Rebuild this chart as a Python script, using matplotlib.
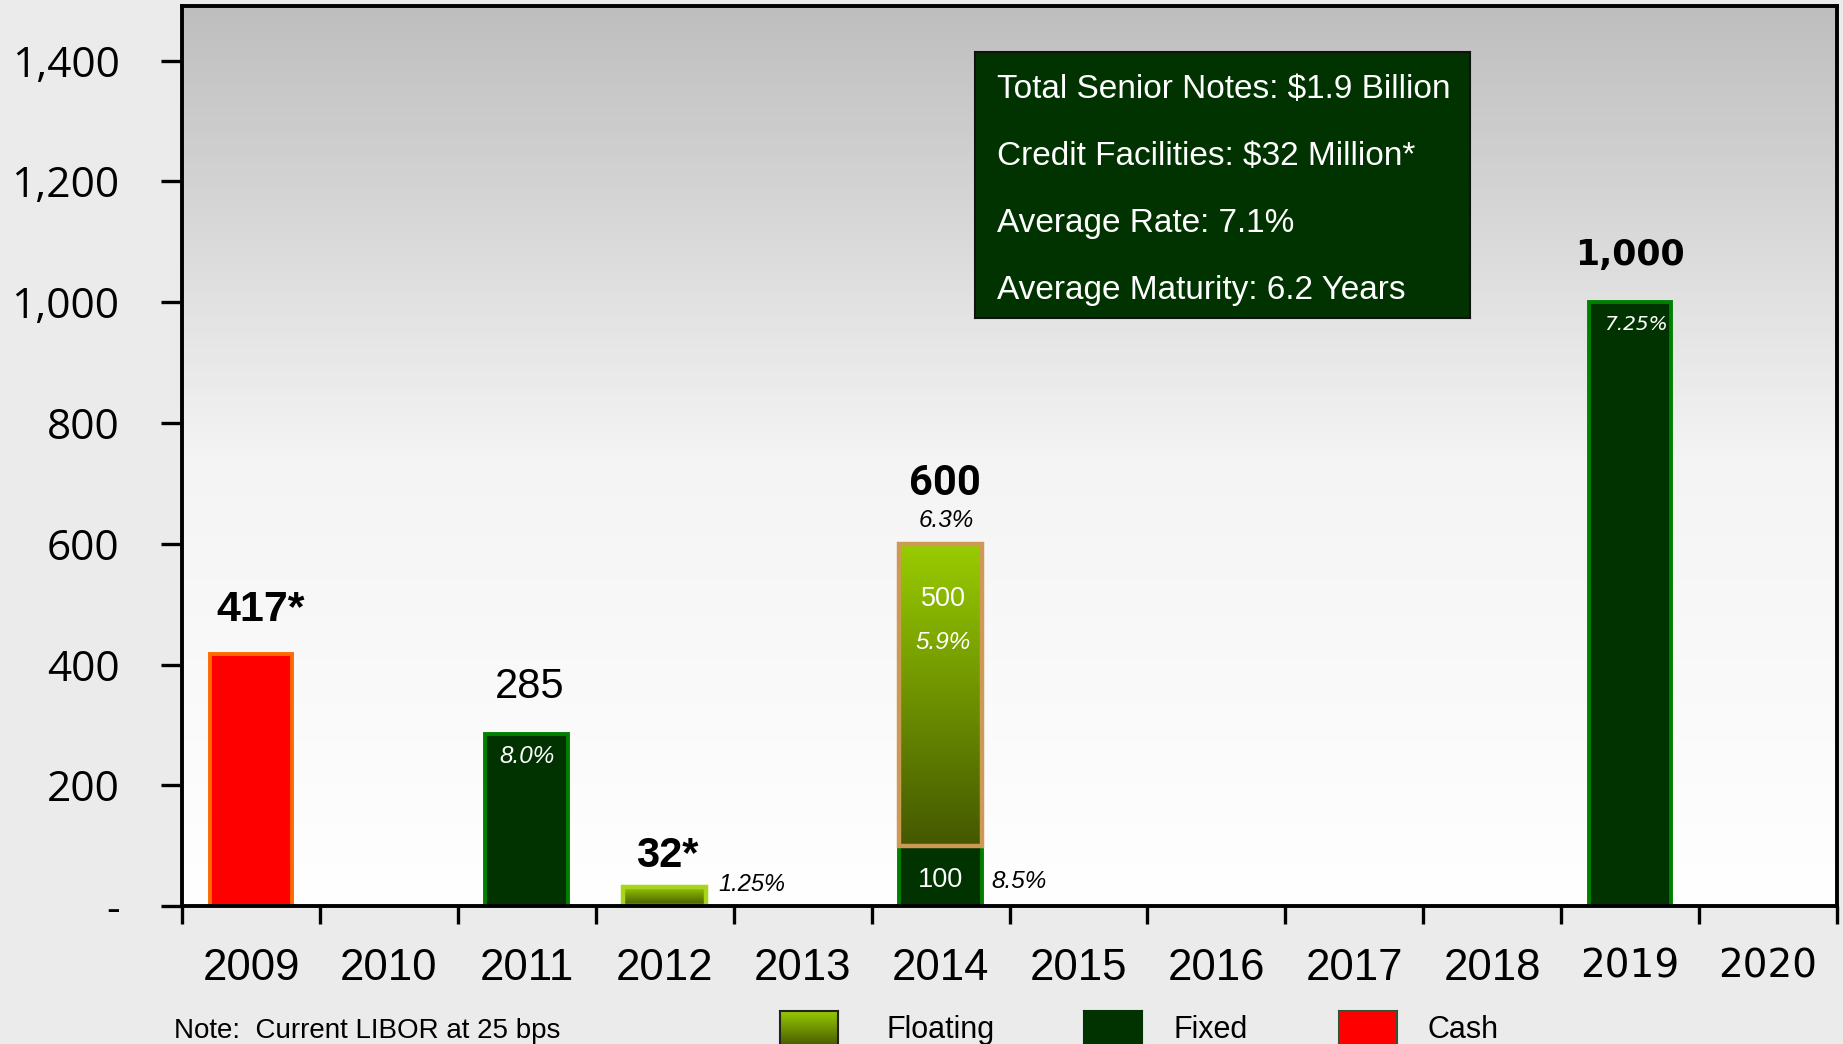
import numpy as np
import matplotlib
matplotlib.use('Agg')
import matplotlib.pyplot as plt
from matplotlib.colors import LinearSegmentedColormap

# data
years = ['2009', '2010', '2011', '2012', '2013', '2014', '2015', '2016', '2017', '2018', '2019', '2020']
cash = [417, 0, 0, 0, 0, 0, 0, 0, 0, 0, 0, 0]
fixed = [0, 0, 285, 0, 0, 100, 0, 0, 0, 0, 1000, 0]
floating = [0, 0, 0, 32, 0, 500, 0, 0, 0, 0, 0, 0]
fixed_rates = ['', '', '8.0%', '', '', '8.5%', '', '', '', '', '7.25%', '']
floating_rates = ['', '', '', '1.25%', '', '5.9%', '', '', '', '', '', '']
total_labels = ['417*', '', '285', '32*', '', '600', '', '', '', '', '1,000', '']
total_rates = ['', '', '', '', '', '6.3%', '', '', '', '', '', '']
yticks = [0, 200, 400, 600, 800, 1000, 1200, 1400]
ytick_labels = ['-', '200', '400', '600', '800', '1,000', '1,200', '1,400']
summary = ['Total Senior Notes: $1.9 Billion',
           'Credit Facilities: $32 Million*',
           'Average Rate: 7.1%',
           'Average Maturity: 6.2 Years']
note = 'Note:  Current LIBOR at 25 bps'
legend_names = ['Floating', 'Fixed', 'Cash']

# no narrow Arial here, Liberation Sans sized down to match widths
NARROW = ['Liberation Sans', 'DejaVu Sans']
FIXED_FC, FIXED_EC = '#003300', '#008000'
CASH_FC, CASH_EC = '#ff0000', '#ff6a00'
FLOAT_TOP, FLOAT_BOT = '#99cc00', '#445800'
float_cmap = LinearSegmentedColormap.from_list('flt', [FLOAT_BOT, FLOAT_TOP])
grad = np.linspace(0, 1, 256).reshape(-1, 1)

fig = plt.figure(figsize=(18.43, 10.44), dpi=100, facecolor='#ebebeb')
ax = fig.add_axes([0.0988, 0.132, 0.8979, 0.862])

# background gradient of the plot area (white at the bottom, grey on top)
ax.imshow(grad, cmap=LinearSegmentedColormap.from_list('bg', ['#ffffff', '#f4f4f4', '#bebebe']),
          extent=[0, 1, 0, 1], transform=ax.transAxes, aspect='auto', zorder=0, origin='lower')

x = np.arange(len(years))
w = 0.6
cash = np.array(cash)
fixed = np.array(fixed)
floating = np.array(floating)

m = cash > 0
ax.bar(x[m], cash[m], w, color=CASH_FC, edgecolor=CASH_EC, linewidth=2.8, zorder=3)
m = fixed > 0
ax.bar(x[m], fixed[m], w, color=FIXED_FC, edgecolor=FIXED_EC, linewidth=2.8, zorder=3)
m = floating > 0
fbars = ax.bar(x[m], floating[m], w, bottom=fixed[m], color='none', linewidth=3.2, zorder=4,
               edgecolor=['#a8d41a' if v < 100 else '#cc9a55' for v in floating[m]])
for b in fbars:
    x0, y0 = b.get_x(), b.get_y()
    im = ax.imshow(grad, cmap=float_cmap, origin='lower', aspect='auto', zorder=3.5,
                   extent=[x0, x0 + b.get_width(), y0, y0 + b.get_height()])
    im.set_clip_path(b)

ax.set_xlim(-0.5, len(years) - 0.5)
ax.set_ylim(0, 1490)

# axes styling
for s in ax.spines.values():
    s.set_linewidth(2.8)
    s.set_zorder(5)
ax.set_yticks(yticks)
ax.set_yticklabels(ytick_labels, fontsize=30.5, family='Open Sans')
ax.tick_params(axis='y', length=15, width=2.4, pad=30)
ax.set_xticks(np.arange(len(years) + 1) - 0.5)
ax.set_xticklabels([])
ax.tick_params(axis='x', which='major', length=13, width=2.4)
ax.set_xticks(x, minor=True)
ax.set_xticklabels(years, minor=True, fontsize=31.5, family=NARROW)
ax.tick_params(axis='x', which='minor', length=0, pad=30)
for lbl in ax.get_xticklabels(minor=True)[-2:]:
    lbl.set_family('DejaVu Sans')
    lbl.set_fontsize(28)

top = cash + fixed + floating

# value labels above bars
styles = {
    0: dict(dx=7, dy=24, family=NARROW, weight='bold', size=31),
    2: dict(dx=2, dy=26, family=NARROW, weight='normal', size=30),
    3: dict(dx=2, dy=14, family=NARROW, weight='bold', size=30),
    5: dict(dx=3, dy=35, family='Roboto', weight='bold', size=30),
    10: dict(dx=0, dy=27, family='DejaVu Sans', weight='bold', size=25),
}
for i, lab in enumerate(total_labels):
    if not lab:
        continue
    st = styles[i]
    ax.annotate(lab, (x[i], top[i]), xytext=(st['dx'], st['dy']), textcoords='offset points',
                ha='center', va='baseline', fontsize=st['size'], family=st['family'],
                weight=st['weight'], zorder=6)
    if total_rates[i]:
        ax.annotate(total_rates[i], (x[i], top[i]), xytext=(4, 12), textcoords='offset points',
                    ha='center', va='baseline', fontsize=17.5, family=NARROW, style='italic', zorder=6)

# rates and split values
for i in range(len(years)):
    if fixed_rates[i] and floating[i] == 0:
        fam = 'DejaVu Sans' if i == 10 else NARROW
        fs = 14.5 if i == 10 else 17.5
        dx = 4 if i == 10 else 0
        ax.annotate(fixed_rates[i], (x[i], fixed[i]), xytext=(dx, -16), textcoords='offset points',
                    ha='center', va='center', fontsize=fs, family=fam, style='italic',
                    color='white', zorder=6)
    elif fixed_rates[i]:
        ax.annotate(str(fixed[i]), (x[i], fixed[i] / 2), xytext=(0, -3), textcoords='offset points',
                    ha='center', va='center', fontsize=19.5, family=NARROW, color='white', zorder=6)
        ax.annotate(fixed_rates[i], (x[i] + w / 2, fixed[i] / 2), xytext=(7, -4),
                    textcoords='offset points', ha='left', va='center', fontsize=17.5,
                    family=NARROW, style='italic', zorder=6)
    if floating_rates[i] and fixed[i] > 0:
        ax.annotate(str(floating[i]), (x[i], top[i]), xytext=(2, -40), textcoords='offset points',
                    ha='center', va='center', fontsize=19.5, family=NARROW, color='white', zorder=6)
        ax.annotate(floating_rates[i], (x[i], top[i]), xytext=(2, -71), textcoords='offset points',
                    ha='center', va='center', fontsize=17.5, family=NARROW, style='italic',
                    color='white', zorder=6)
    elif floating_rates[i]:
        ax.annotate(floating_rates[i], (x[i] + w / 2, top[i]), xytext=(9, 2),
                    textcoords='offset points', ha='left', va='center', fontsize=17,
                    family=NARROW, style='italic', zorder=6)

# summary box
box = fig.add_axes([0.529, 0.6954, 0.2686, 0.2548])
box.set_xticks([])
box.set_yticks([])
box.set_facecolor('#003300')
for s in box.spines.values():
    s.set_color('#111111')
    s.set_linewidth(1.5)
for k, line in enumerate(summary):
    fig.text(0.541, 0.9061 - k * 0.0642, line, fontsize=24, family=NARROW,
             color='white', va='baseline')

# note and legend
fig.text(0.0944, 0.006, note, fontsize=20, family=NARROW, va='baseline')
sw_x = [0.4232, 0.5882, 0.7265]
tx_x = [0.4808, 0.6365, 0.7748]
for name, sx, tx in zip(legend_names, sw_x, tx_x):
    sw = fig.add_axes([sx, -0.003, 0.0315, 0.0345])
    sw.set_xticks([])
    sw.set_yticks([])
    if name == 'Floating':
        sw.imshow(grad, cmap=float_cmap, origin='lower', aspect='auto', extent=[0, 1, 0, 1])
        ec = '#222222'
    elif name == 'Fixed':
        sw.set_facecolor(FIXED_FC)
        ec = FIXED_FC
    else:
        sw.set_facecolor(CASH_FC)
        ec = '#335533'
    for s in sw.spines.values():
        s.set_color(ec)
        s.set_linewidth(1.5)
    fig.text(tx, 0.006, name, fontsize=22, family=NARROW, va='baseline')

fig.savefig('out.png', dpi=100, facecolor=fig.get_facecolor())
